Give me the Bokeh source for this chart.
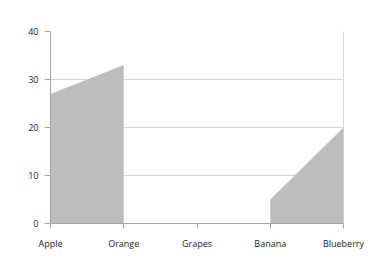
import math
from bokeh.plotting import figure
from bokeh.models import FixedTicker, Range1d
from bokeh.embed import file_html
from bokeh.resources import INLINE

categories = ["Apple", "Orange", "Grapes", "Banana", "Blueberry"]
values = [27, 33, None, 5, 20]
y_ticks = [0, 10, 20, 30, 40]

p = figure(width=389, height=264, output_backend="svg", toolbar_location=None,
           x_range=Range1d(0, len(categories) - 1), y_range=Range1d(0, 40),
           min_border_left=50, min_border_right=46, min_border_top=31, min_border_bottom=41)
p.outline_line_color = None
p.background_fill_color = "white"

# area segments between consecutive non-null points
xs = list(range(len(categories)))
seg_x, seg_y = [], []
for i, v in enumerate(values):
    if v is None:
        if len(seg_x) > 1:
            p.varea(x=seg_x, y1=[0] * len(seg_x), y2=seg_y, fill_color="#bdbdbd")
        seg_x, seg_y = [], []
    else:
        seg_x.append(xs[i]); seg_y.append(v)
if len(seg_x) > 1:
    p.varea(x=seg_x, y1=[0] * len(seg_x), y2=seg_y, fill_color="#bdbdbd")

# right border line
p.segment(x0=[len(categories) - 1], y0=[0], x1=[len(categories) - 1], y1=[40],
          line_color="#b0b0b0", line_width=1)

p.xaxis.ticker = FixedTicker(ticks=xs)
p.xaxis.major_label_overrides = {i: c for i, c in enumerate(categories)}
p.yaxis.ticker = FixedTicker(ticks=y_ticks)

for ax in (p.xaxis[0], p.yaxis[0]):
    ax.axis_line_color = "#a6a6a6"
    ax.major_tick_line_color = "#a6a6a6"
    ax.minor_tick_line_color = None
    ax.major_label_text_font = "Open Sans"
    ax.major_label_text_font_size = "9px"
    ax.major_label_text_color = "#222222"
    ax.major_tick_in = 0
p.xaxis.major_tick_out = 5
p.yaxis.major_tick_out = 6
p.xaxis.major_label_standoff = 8
p.yaxis.major_label_standoff = 6

p.xgrid.grid_line_color = None
p.ygrid.grid_line_color = "#d4d4d4"
p.ygrid.ticker = FixedTicker(ticks=y_ticks)

open("out.html", "w").write(file_html(p, INLINE))
